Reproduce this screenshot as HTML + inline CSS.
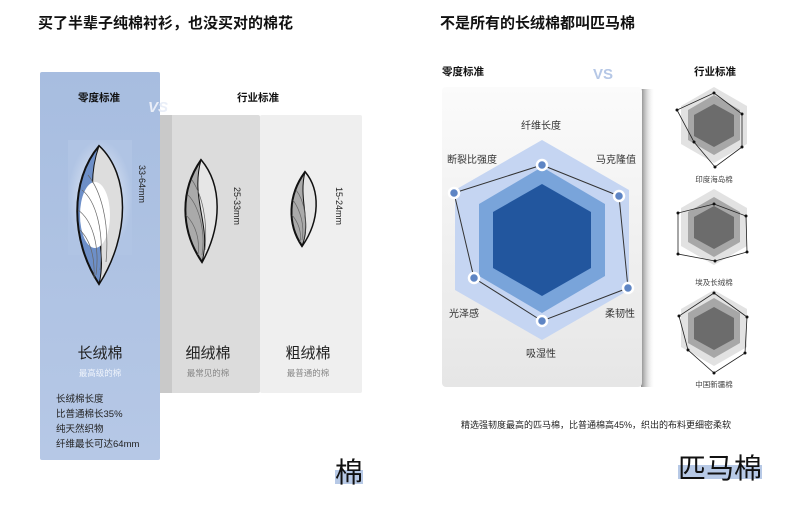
<!DOCTYPE html>
<html><head><meta charset="utf-8"><style>
body{margin:0;width:800px;height:500px;background:#fff;overflow:hidden;font-family:"Liberation Sans","Noto Sans CJK SC",sans-serif}
</style></head><body>
<svg width="800" height="500" viewBox="0 0 800 500" xmlns="http://www.w3.org/2000/svg" font-family="Liberation Sans, Noto Sans CJK SC, sans-serif">
<defs>
<linearGradient id="bl" x1="0" y1="0" x2="0" y2="1"><stop offset="0" stop-color="#a7bde0"/><stop offset="1" stop-color="#b6c8e6"/></linearGradient>
<radialGradient id="glow" cx="0.5" cy="0.5" r="0.5"><stop offset="0" stop-color="#eef2fa"/><stop offset="1" stop-color="#b0c4e4"/></radialGradient>
<linearGradient id="card" x1="0" y1="0" x2="0" y2="1"><stop offset="0" stop-color="#fbfbfb"/><stop offset="1" stop-color="#e6e6e6"/></linearGradient>
<linearGradient id="sh" x1="0" y1="0" x2="1" y2="0"><stop offset="0" stop-color="#888"/><stop offset="1" stop-color="#fff" stop-opacity="0"/></linearGradient>
</defs>
<text x="38" y="28" font-size="15" font-weight="bold" fill="#111">买了半辈子纯棉衬衫，也没买对的棉花</text>
<text x="440" y="28" font-size="15" font-weight="bold" fill="#111">不是所有的长绒棉都叫匹马棉</text>

<rect x="160" y="115" width="100" height="278" fill="#dcdcdc" rx="2"/>
<rect x="160" y="115" width="12" height="278" fill="#c9c9c9"/>
<rect x="260" y="115" width="102" height="278" fill="#efefef" rx="2"/>
<rect x="40" y="72" width="120" height="388" fill="url(#bl)" rx="2"/>
<rect x="68" y="140" width="64" height="115" fill="url(#glow)"/>
<text x="99" y="101" font-size="10.5" font-weight="bold" text-anchor="middle" fill="#111">零度标准</text>
<text x="148" y="112" font-size="15" font-weight="bold" fill="#e9eef8" font-style="italic">VS</text>
<text x="258" y="101" font-size="10.5" font-weight="bold" text-anchor="middle" fill="#111">行业标准</text>

<g stroke="#111" stroke-width="2">
<path d="M99 146 C130 175 130 235 99 284 C70 240 70 180 99 146Z" fill="#6d8fc8"/>
<path d="M99 146 C130 175 130 235 99 284 C110 240 80 200 99 146Z" fill="#ddd" stroke-width="1"/>
<ellipse cx="95" cy="215" rx="15" ry="33" fill="#fff" stroke="none"/>
<path d="M201 160 C222 185 222 225 202 262 C180 230 180 190 201 160Z" fill="#aaa"/>
<path d="M201 160 C222 185 222 225 202 262 C212 225 190 200 201 160Z" fill="#e6e6e6" stroke-width="1"/>
<path d="M305 172 C320 190 320 220 302 246 C287 224 288 195 305 172Z" fill="#aaa"/>
<path d="M305 172 C320 190 320 220 302 246 C312 222 298 200 305 172Z" fill="#e6e6e6" stroke-width="1"/>
</g>
<g stroke="#666" stroke-width="0.7" fill="none">
<path d="M82 190 C95 200 105 230 100 270"/><path d="M78 210 C92 220 100 245 96 275"/><path d="M88 175 C100 190 110 220 106 262"/><path d="M80 230 C90 240 95 255 94 278"/>
<path d="M188 195 C198 205 206 230 202 255"/><path d="M186 215 C196 225 200 240 198 255"/><path d="M192 180 C202 195 208 220 205 250"/>
<path d="M293 200 C300 210 305 225 302 240"/><path d="M292 215 C298 222 302 232 300 242"/><path d="M296 190 C304 200 308 220 304 238"/>
</g>
<g font-size="9" fill="#222">
<text transform="translate(139,165) rotate(90)">33-64mm</text>
<text transform="translate(234,187) rotate(90)">25-33mm</text>
<text transform="translate(336,187) rotate(90)">15-24mm</text>
</g>
<text x="100" y="358" font-size="15" text-anchor="middle" fill="#222">长绒棉</text>
<text x="100" y="376" font-size="8.5" text-anchor="middle" fill="#eef3fb">最高级的棉</text>
<text x="208" y="358" font-size="15" text-anchor="middle" fill="#222">细绒棉</text>
<text x="208" y="376" font-size="8.5" text-anchor="middle" fill="#888">最常见的棉</text>
<text x="308" y="358" font-size="15" text-anchor="middle" fill="#222">粗绒棉</text>
<text x="308" y="376" font-size="8.5" text-anchor="middle" fill="#888">最普通的棉</text>
<g font-size="9.5" fill="#222">
<text x="56" y="402">长绒棉长度</text><text x="56" y="417">比普通棉长35%</text>
<text x="56" y="432">纯天然织物</text><text x="56" y="447">纤维最长可达64mm</text>
</g>
<rect x="335" y="470" width="28" height="14" fill="#b7c9e6"/>
<text x="335" y="482" font-size="28" fill="#111">棉</text>

<text x="442" y="75" font-size="10.5" font-weight="bold" fill="#111">零度标准</text>
<text x="593" y="79" font-size="15" font-weight="bold" fill="#b5c7e6">VS</text>
<text x="715" y="75" font-size="10.5" font-weight="bold" text-anchor="middle" fill="#111">行业标准</text>
<rect x="641" y="89" width="14" height="298" fill="url(#sh)"/>
<rect x="442" y="87" width="200" height="300" fill="url(#card)" rx="4"/>
<polygon points="542,140 629,190 629,290 542,340 455,290 455,190" fill="#c5d5f2"/>
<polygon points="542,167 605,204 605,276 542,313 479,276 479,204" fill="#79a4da"/>
<polygon points="542,184 591,212 591,268 542,296 493,268 493,212" fill="#22569e"/>
<polyline points="542,165 619,196 628,288 542,321 474,278 454,193 542,165" fill="none" stroke="#333" stroke-width="1"/>
<g fill="#5e85c4" stroke="#fff" stroke-width="2.5">
<circle cx="542" cy="165" r="5"/><circle cx="619" cy="196" r="5"/><circle cx="628" cy="288" r="5"/>
<circle cx="542" cy="321" r="5"/><circle cx="474" cy="278" r="5"/><circle cx="454" cy="193" r="5"/>
</g>
<g font-size="10" fill="#333" text-anchor="middle">
<text x="541" y="129">纤维长度</text><text x="616" y="163">马克隆值</text><text x="472" y="163">断裂比强度</text>
<text x="620" y="317">柔韧性</text><text x="464" y="317">光泽感</text><text x="541" y="357">吸湿性</text>
</g>
<g>
<polygon points="714,87 747,106 747,144 714,163 681,144 681,106" fill="#e2e2e2"/>
<polygon points="714,95 740,110 740,140 714,155 688,140 688,110" fill="#a7a7a7"/>
<polygon points="714,104 734,115 734,136 714,147 694,136 694,115" fill="#6c6c6c"/>
<polyline points="714,93 742,114 742,147 715,167 694,142 677,110 714,93" fill="none" stroke="#222" stroke-width="0.8"/>
<polygon points="714,189 747,208 747,246 714,265 681,246 681,208" fill="#e2e2e2"/>
<polygon points="714,197 740,212 740,242 714,257 688,242 688,212" fill="#a7a7a7"/>
<polygon points="714,206 734,217 734,238 714,249 694,238 694,217" fill="#6c6c6c"/>
<polyline points="714,204 746,216 747,252 715,261 678,254 678,213 714,204" fill="none" stroke="#222" stroke-width="0.8"/>
<polygon points="714,290 747,309 747,347 714,366 681,347 681,309" fill="#e2e2e2"/>
<polygon points="714,298 740,313 740,343 714,358 688,343 688,313" fill="#a7a7a7"/>
<polygon points="714,307 734,318 734,339 714,350 694,339 694,318" fill="#6c6c6c"/>
<polyline points="714,293 747,317 745,353 714,373 688,350 679,316 714,293" fill="none" stroke="#222" stroke-width="0.8"/>
<g fill="#111"><circle cx="714" cy="93" r="1.5"/><circle cx="742" cy="114" r="1.5"/><circle cx="742" cy="147" r="1.5"/><circle cx="715" cy="167" r="1.5"/><circle cx="694" cy="142" r="1.5"/><circle cx="677" cy="110" r="1.5"/>
<circle cx="714" cy="204" r="1.5"/><circle cx="746" cy="216" r="1.5"/><circle cx="747" cy="252" r="1.5"/><circle cx="715" cy="261" r="1.5"/><circle cx="678" cy="254" r="1.5"/><circle cx="678" cy="213" r="1.5"/>
<circle cx="714" cy="293" r="1.5"/><circle cx="747" cy="317" r="1.5"/><circle cx="745" cy="353" r="1.5"/><circle cx="714" cy="373" r="1.5"/><circle cx="688" cy="350" r="1.5"/><circle cx="679" cy="316" r="1.5"/></g>
</g>
<g font-size="7.5" fill="#444" text-anchor="middle">
<text x="714" y="182">印度海岛棉</text><text x="714" y="285">埃及长绒棉</text><text x="714" y="387">中国新疆棉</text>
</g>
<text x="596" y="428" font-size="9" fill="#222" text-anchor="middle">精选强韧度最高的匹马棉，比普通棉高45%，织出的布料更细密柔软</text>
<rect x="678" y="465" width="84" height="14" fill="#b7c9e6"/>
<text x="678" y="478" font-size="28" fill="#111">匹马棉</text>
</svg>
</body></html>
